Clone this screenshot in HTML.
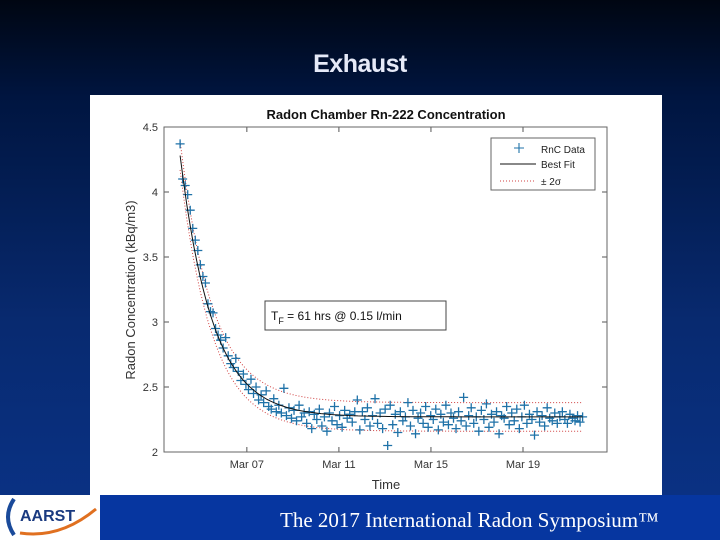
<!DOCTYPE html>
<html><head><meta charset="utf-8"><style>
html,body{margin:0;padding:0}
body{width:720px;height:540px;overflow:hidden;position:relative;background:linear-gradient(180deg,#000612 0%,#001540 18%,#082a70 60%,#0a3388 100%);font-family:"Liberation Sans",sans-serif}
#title{position:absolute;left:0;width:720px;top:50px;text-align:center;color:#e6eaf8;font-weight:bold;font-size:25px;letter-spacing:-0.5px}
#footer{position:absolute;left:0;top:495px;width:720px;height:45px;background:#0636a0}
#logo{position:absolute;left:0;top:495px;width:100px;height:45px;background:#fff}
#foottext{position:absolute;left:280px;top:508px;color:#fff;font-family:"Liberation Serif",serif;font-size:21px}
svg{position:absolute;left:0;top:0}
</style></head><body>
<div id="title">Exhaust</div>
<div id="footer"></div>
<div id="logo">
<svg width="100" height="45" viewBox="0 0 100 45"><path d="M14 4 Q2 22 14 40" stroke="#1a4a9a" stroke-width="4" fill="none"/><path d="M20 38 Q60 44 96 14" stroke="#e07020" stroke-width="3" fill="none"/><text x="20" y="26" font-family="Liberation Sans" font-weight="bold" font-size="16" fill="#1a3a80">AARST</text></svg>
</div>
<div id="foottext">The 2017 International Radon Symposium™</div>
<svg id="chart" width="720" height="540"></svg>
<script>
const yTicks=[2,2.5,3,3.5,4,4.5];
const yTickLabels=["2","2.5","3","3.5","4","4.5"];
const xTicks=[7,11,15,19];
const xTickLabels=["Mar 07","Mar 11","Mar 15","Mar 19"];
const dataStart=4.1, dataStep=0.110;
const rnValues=[4.37,4.10,4.05,3.98,3.86,3.72,3.63,3.55,3.44,3.35,
3.30,3.14,3.08,3.07,2.95,2.90,2.86,2.80,2.88,2.74,
2.68,2.65,2.72,2.62,2.55,2.60,2.52,2.48,2.56,2.45,
2.50,2.40,2.44,2.38,2.47,2.35,2.33,2.41,2.31,2.36,
2.30,2.49,2.28,2.34,2.26,2.32,2.24,2.36,2.27,2.30,
2.22,2.31,2.18,2.29,2.25,2.33,2.20,2.27,2.16,2.30,
2.24,2.35,2.21,2.28,2.19,2.32,2.26,2.29,2.23,2.31,
2.40,2.17,2.31,2.25,2.34,2.20,2.28,2.41,2.22,2.30,
2.18,2.33,2.05,2.36,2.21,2.29,2.15,2.31,2.24,2.27,
2.38,2.20,2.32,2.14,2.26,2.30,2.22,2.35,2.19,2.28,
2.25,2.33,2.17,2.29,2.23,2.36,2.21,2.30,2.26,2.18,
2.31,2.24,2.42,2.20,2.28,2.34,2.22,2.27,2.16,2.32,
2.25,2.37,2.19,2.29,2.23,2.31,2.14,2.28,2.26,2.35,
2.21,2.30,2.24,2.33,2.18,2.27,2.36,2.22,2.29,2.25,
2.13,2.31,2.23,2.28,2.20,2.34,2.26,2.24,2.30,2.22,
2.27,2.31,2.25,2.22,2.29,2.26,2.24,2.28,2.23,2.27];
const fitBase=[2.27], fitAmp=[2.01], fitTau=[1.4], fitSigma=[0.11];

const NS="http://www.w3.org/2000/svg";
const svg=document.getElementById('chart');
const L=164,R=607,T=127,B=452,xmin=3.4,xmax=22.65,ymin=2,ymax=4.5;
const X=d=>L+(d-xmin)/(xmax-xmin)*(R-L);
const Y=v=>B-(v-ymin)/(ymax-ymin)*(B-T);
function mk(tag,attrs,parent){const e=document.createElementNS(NS,tag);for(const k in attrs)e.setAttribute(k,attrs[k]);(parent||svg).appendChild(e);return e;}

const panel=mk('rect',{x:90,y:95,width:572,height:400,fill:'#fff'});


const ttl=mk('text',{x:386,y:119,'text-anchor':'middle','font-size':13,'font-weight':'bold',fill:'#111'});
ttl.textContent='Radon Chamber Rn-222 Concentration';



yTicks.forEach((v,i)=>{
  mk('line',{x1:L,x2:L+5,y1:Y(v),y2:Y(v),stroke:'#555'});
  mk('line',{x1:R,x2:R-5,y1:Y(v),y2:Y(v),stroke:'#555'});
  const t=mk('text',{x:L-6,y:Y(v)+4,'text-anchor':'end','font-size':11,fill:'#333'});
  t.textContent=yTickLabels[i];
  
  
});
xTicks.forEach((d,i)=>{
  mk('line',{x1:X(d),x2:X(d),y1:B,y2:B-5,stroke:'#555'});
  mk('line',{x1:X(d),x2:X(d),y1:T,y2:T+5,stroke:'#555'});
  const t=mk('text',{x:X(d),y:B+16,'text-anchor':'middle','font-size':11,fill:'#333'});
  t.textContent=xTickLabels[i];
  
  
});
const yl=mk('text',{x:0,y:0,transform:'translate(135,290) rotate(-90)','text-anchor':'middle','font-size':13,fill:'#333'});
yl.textContent='Radon Concentration (kBq/m3)';


const xl=mk('text',{x:386,y:489,'text-anchor':'middle','font-size':13,fill:'#333'});
xl.textContent='Time';



const fit=t=>fitBase[0]+fitAmp[0]*Math.exp(-t/fitTau[0]);
const tEnd=dataStart+dataStep*(rnValues.length-1);
let pf='',pu='',pl='';
for(let k=0;k<=120;k++){const d=dataStart+(tEnd-dataStart)*k/120,t=d-dataStart,f=fit(t);
  pf+=(k?'L':'M')+X(d).toFixed(1)+' '+Y(f).toFixed(1);
  pu+=(k?'L':'M')+X(d).toFixed(1)+' '+Y(f+fitSigma[0]).toFixed(1);
  pl+=(k?'L':'M')+X(d).toFixed(1)+' '+Y(f-fitSigma[0]).toFixed(1);}
const bu=mk('path',{d:pu,fill:'none',stroke:'#d04040','stroke-width':1,'stroke-dasharray':'1 2'});


const bl=mk('path',{d:pl,fill:'none',stroke:'#d04040','stroke-width':1,'stroke-dasharray':'1 2'});



const g=mk('g',{stroke:'#1f72a8','stroke-width':1.3});


rnValues.forEach((v,i)=>{const cx=X(dataStart+i*dataStep),cy=Y(v);
  const p=mk('path',{d:`M${cx-4.5} ${cy}H${cx+4.5}M${cx} ${cy-4.5}V${cy+4.5}`},g);
  
  
});
const fl=mk('path',{d:pf,fill:'none',stroke:'#111','stroke-width':1});



const ax=mk('rect',{x:L,y:T,width:R-L,height:B-T,fill:'none',stroke:'#666','stroke-width':1});



const lg=mk('g',{});


mk('rect',{x:491,y:138,width:104,height:52,fill:'#fff',stroke:'#666'},lg);
mk('path',{d:'M514 148H524M519 143V153',stroke:'#1f72a8','stroke-width':1.1},lg);
mk('line',{x1:500,x2:536,y1:164,y2:164,stroke:'#111'},lg);
mk('line',{x1:500,x2:536,y1:181,y2:181,stroke:'#d04040','stroke-dasharray':'1 2'},lg);
[['RnC Data',153],['Best Fit',168],['± 2σ',185]].forEach(([s,y])=>{
  const t=mk('text',{x:541,y:y,'font-size':10,fill:'#222'},lg);t.textContent=s;
  
  
});
const an=mk('g',{});


mk('rect',{x:265,y:301,width:181,height:29,fill:'#fff',stroke:'#444'},an);
const at=mk('text',{x:271,y:320,'font-size':12,fill:'#111'},an);
at.innerHTML='T<tspan font-size="9" dy="4">F</tspan><tspan dy="-4"> = 61 hrs @ 0.15 l/min</tspan>';
</script>
</body></html>
